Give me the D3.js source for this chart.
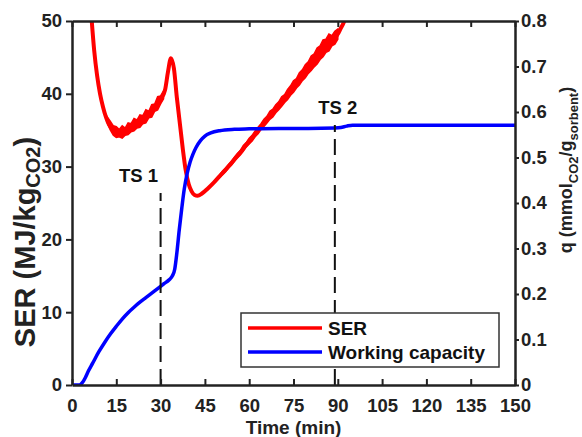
<!DOCTYPE html>
<html><head><meta charset="utf-8">
<script src="https://cdn.jsdelivr.net/npm/d3@7"></script>
<style>body{margin:0;background:#fff}svg{display:block}text{font-family:"Liberation Sans",Arial,sans-serif;font-weight:bold}</style>
</head><body><svg id="c" width="582" height="437"></svg>
<script>
// ---- data ----
const serTime = [6.5,7.5,8.5,9.5,10.5,11.5,12.5,13.5,15,16.5,18,20,22,24,26,28,30,31.5,32.5,33.5,34.5,35.5,36.5,37.5,38.5,39.5,40.5,41.5,42.5,44,46,48,50,52.5,55,57.5,60,62.5,65,67.5,70,72.5,75,77.5,80,82.5,85,87.5,89,90,91,92,92.8];
const serValue = [51,46,42.5,40,38.2,36.8,35.8,35.2,34.7,34.6,34.9,35.4,35.9,36.5,37.3,38.2,39.2,40.5,43,44.9,43.5,39.5,36,32.5,29.5,27.6,26.6,26.1,26.0,26.3,27.0,27.8,28.7,29.8,31.0,32.2,33.5,34.7,36.0,37.2,38.4,39.7,41.0,42.3,43.6,44.9,46.2,47.1,47.6,48.2,49,49.8,50.8];
// noise envelope of SER (min/max)
const noiseTimeA = [12,13,14,15,16,17,18,19,20,21,22,23,24,25,26,27,28,29,30,31];
const noiseHighA = [36.8,36.2,35.6,35.5,35.1,35.6,35.3,36.0,35.9,36.6,36.4,37.1,37.0,37.8,37.6,38.5,38.6,39.6,39.7,40.4];
const noiseLowA  = [35.9,35.0,34.3,34.0,34.1,33.9,34.3,34.4,34.8,34.9,35.3,35.4,35.9,36.0,36.7,36.8,37.6,37.8,38.6,39.3];
const noiseTimeB = [50,51,52,53,54,55,56,57,58,59,60,61,62,63,64,65,66,67,68,69,70,71,72,73,74,75,76,77,78,79,80,81,82,83,84,85,86,87,88,89,90];
const noiseHighB = [28.9,29.4,29.8,30.3,30.7,31.3,31.8,32.2,32.9,33.3,33.9,34.3,34.9,35.4,35.9,36.5,36.9,37.6,37.9,38.5,38.9,39.6,39.9,40.6,41.1,41.8,42.1,42.9,43.3,44.0,44.4,45.2,45.5,46.3,46.6,47.4,47.5,48.2,48.0,48.6,48.9];
const noiseLowB  = [28.5,28.9,29.3,29.8,30.2,30.7,31.2,31.6,32.1,32.7,33.1,33.5,34.1,34.5,35.1,35.5,36.0,36.5,36.8,37.4,37.8,38.3,38.8,39.2,39.8,40.2,40.8,41.2,41.8,42.2,42.8,43.2,43.7,44.1,44.7,45.1,45.7,45.9,46.6,46.8,47.5];
const capTime = [0,2.5,3.5,4.5,5.5,7,9,11,13,15,17,19,21,23,25,27,29,31,33,34,34.8,35.5,36.3,37.2,38,39,40,41,42,43.5,45,47,50,55,60,70,80,89,91,93,95,100,150];
const capValue = [0,0,0.005,0.016,0.03,0.048,0.072,0.093,0.112,0.129,0.145,0.159,0.171,0.182,0.192,0.202,0.212,0.222,0.232,0.24,0.255,0.29,0.34,0.39,0.43,0.465,0.49,0.508,0.522,0.537,0.547,0.554,0.559,0.562,0.563,0.564,0.564,0.565,0.566,0.569,0.571,0.571,0.571];
const xTicks = [0,15,30,45,60,75,90,105,120,135,150];
const yLeftTicks = [0,10,20,30,40,50];
const yRightTicks = [0,0.1,0.2,0.3,0.4,0.5,0.6,0.7,0.8];
const tsTime = [30,89];
const tsLabel = ["TS 1","TS 2"];
const legendLabels = ["SER","Working capacity"];
const colors = ["#ff0000","#0000ff"];

// ---- layout ----
const svg = d3.select("#c");
const L=72,R=515,T=21,B=385;
const x = d3.scaleLinear().domain([0,150]).range([L,R]);
const yL = d3.scaleLinear().domain([0,50]).range([B,T]);
const yR = d3.scaleLinear().domain([0,0.8]).range([B,T]);
const ink="#222";
const tsTop = [193,125];
const tsLabelDx = [-22,3];

svg.append("defs").append("clipPath").attr("id","clip").append("rect").attr("x",L).attr("y",T).attr("width",R-L).attr("height",B-T);
const plot = svg.append("g").attr("clip-path","url(#clip)");

// TS dashed lines (pattern starts at the axis)
tsTime.forEach((t,i)=>{
  svg.append("line").attr("x1",x(t)).attr("x2",x(t)).attr("y1",B).attr("y2",tsTop[i])
    .attr("stroke","#111").attr("stroke-width",2).attr("stroke-dasharray","16,7");
});

// SER noise bands
const area = (tt,lo,hi)=>d3.area().x((d,i)=>x(tt[i])).y0((d,i)=>yL(lo[i])).y1((d,i)=>yL(hi[i]))(tt);
plot.append("path").attr("d",area(noiseTimeA,noiseLowA,noiseHighA)).attr("fill",colors[0]).attr("stroke",colors[0]).attr("stroke-width",1.5);
plot.append("path").attr("d",area(noiseTimeB,noiseLowB,noiseHighB)).attr("fill",colors[0]).attr("stroke",colors[0]).attr("stroke-width",1.5);
plot.append("path").attr("d",d3.line().x((d,i)=>x(serTime[i])).y(d=>yL(d)).curve(d3.curveMonotoneX)(serValue))
  .attr("fill","none").attr("stroke",colors[0]).attr("stroke-width",4);
plot.append("path").attr("d",d3.line().x((d,i)=>x(capTime[i])).y(d=>yR(d)).curve(d3.curveMonotoneX)(capValue))
  .attr("fill","none").attr("stroke",colors[1]).attr("stroke-width",3.5);

// axes
const fs = 18.5;
const gB = svg.append("g").attr("transform",`translate(0,${B})`).call(d3.axisBottom(x).tickValues(xTicks).tickSizeInner(-6).tickSizeOuter(0).tickPadding(14));
const gT = svg.append("g").attr("transform",`translate(0,${T})`).call(d3.axisTop(x).tickValues(xTicks).tickSizeInner(-6).tickSizeOuter(0).tickFormat(""));
const gL = svg.append("g").attr("transform",`translate(${L},0)`).call(d3.axisLeft(yL).tickValues(yLeftTicks).tickSizeInner(6).tickSizeOuter(0).tickPadding(4));
const gR = svg.append("g").attr("transform",`translate(${R},0)`).call(d3.axisRight(yR).tickValues(yRightTicks).tickSizeInner(4).tickSizeOuter(0).tickPadding(2).tickFormat(d=>d===0?"0":d3.format(".1f")(d)));
[gB,gT,gL,gR].forEach(g=>{
  g.select(".domain").attr("stroke",ink).attr("stroke-width",2.5);
  g.selectAll(".tick line").attr("stroke",ink).attr("stroke-width",2);
  g.selectAll(".tick text").attr("fill",ink).style("font-size",fs+"px").style("font-weight","bold").style("font-family","Liberation Sans, Arial, sans-serif");
});

// axis titles
svg.append("text").attr("x",(L+R)/2).attr("y",434).attr("text-anchor","middle").attr("fill",ink).style("font-size","19px").text("Time (min)");
const lt = svg.append("text").attr("transform","translate(35,242) rotate(-90)").attr("text-anchor","middle").attr("fill",ink).style("font-size","29px");
lt.append("tspan").text("SER (MJ/kg");
lt.append("tspan").attr("dy",5).style("font-size","20px").text("CO2");
lt.append("tspan").attr("dy",-5).text(")");
const rt = svg.append("text").attr("transform","translate(572,170) rotate(-90)").attr("text-anchor","middle").attr("fill",ink).style("font-size","18px");
rt.append("tspan").text("q (mmol");
rt.append("tspan").attr("dy",6).style("font-size","13px").text("CO2");
rt.append("tspan").attr("dy",-6).text("/g");
rt.append("tspan").attr("dy",6).style("font-size","13px").text("sorbent");
rt.append("tspan").attr("dy",-6).text(")");

// TS labels
tsTime.forEach((t,i)=>{
  svg.append("text").attr("x",x(t)+tsLabelDx[i]).attr("y",tsTop[i]-11).attr("text-anchor","middle").attr("fill","#111").style("font-size","18.5px").text(tsLabel[i]);
});

// legend
const lg = svg.append("g");
lg.append("rect").attr("x",241).attr("y",313).attr("width",258).attr("height",54).attr("fill","#fff").attr("stroke","#333").attr("stroke-width",1.5);
legendLabels.forEach((s,i)=>{
  const yy = 328 + i*24;
  lg.append("line").attr("x1",248).attr("x2",322).attr("y1",yy).attr("y2",yy).attr("stroke",colors[i]).attr("stroke-width",3.5);
  lg.append("text").attr("x",328).attr("y",yy+7).attr("fill","#111").style("font-size","19px").text(s);
});
</script></body></html>
